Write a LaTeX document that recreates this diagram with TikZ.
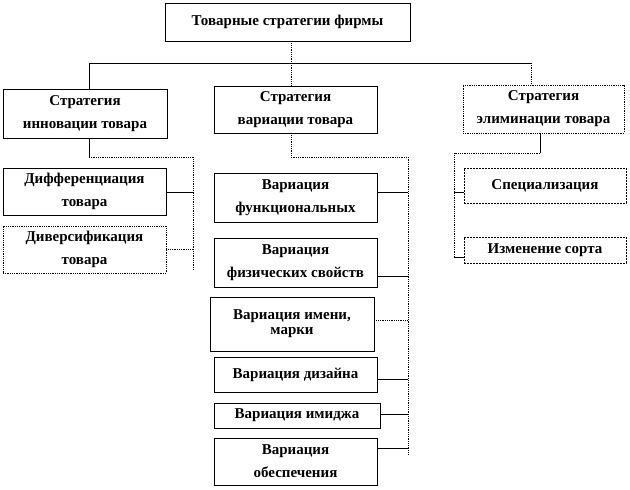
\documentclass[tikz,border=0pt]{standalone}
\usepackage{fontspec}
\setmainfont{Liberation Serif}
\begin{document}
\begin{tikzpicture}[x=1pt,y=-1pt,
  box/.style={draw=black,line width=0.8pt,fill=white,inner sep=0pt,align=center,
    font=\bfseries\fontsize{15}{23}\selectfont},
  dotbox/.style={box,densely dotted},
  dashbox/.style={box,dash pattern=on 2pt off 1pt},
  sline/.style={line width=0.8pt},
  dline/.style={line width=0.8pt,densely dotted}]
\useasboundingbox (0,0) rectangle (630,490);

% Kopf
\node[box,minimum width=245,minimum height=38] (firm) at (287.5,22) {Товарные стратегии фирмы};

% Stufe 1
\node[box,minimum width=164,minimum height=49] (inn) at (85,113.5) {Стратегия\\инновации товара};
\node[box,minimum width=163,minimum height=47] (var) at (295.5,109.5) {Стратегия\\вариации товара};
\node[dotbox,minimum width=161,minimum height=48] (elim) at (543.5,109) {Стратегия\\элиминации товара};

% Verteiler oben
\coordinate (hl) at (89,63);
\coordinate (hm) at (291,63);
\coordinate (hr) at (531,63);
\draw[sline] (hl) -- (hr);
\draw[sline] (hl) -- (hl |- inn.north);
\draw[dline] (hm |- firm.south) -- (hm |- var.north);
\draw[dline] (hr) -- (hr |- elim.north);

% links: Innovation
\node[box,minimum width=163,minimum height=47] (dif) at (84.5,191.5) {Дифференциация\\товара};
\node[dotbox,minimum width=163,minimum height=47] (dvr) at (84.5,249.5) {Диверсификация\\товара};
\coordinate (busL) at (193,157);
\coordinate (busLend) at (193,270);
\draw[sline] (hl |- inn.south) -- (hl |- busL);
\draw[dline] (hl |- busL) -- (busL) -- (busLend);
\draw[sline] (dif.east |- 0,192) -- (busL |- 0,192);
\draw[dline] (dvr.east |- 0,249) -- (busL |- 0,249);

% Mitte: Variation
\node[box,minimum width=163,minimum height=49] (fun) at (295.5,197.5) {Вариация\\функциональных};
\node[box,minimum width=163,minimum height=49] (fiz) at (295.5,262.5) {Вариация\\физических свойств};
\node[box,minimum width=164,minimum height=54,font=\bfseries\fontsize{15}{15}\selectfont] (imn) at (292,324) {Вариация имени,\\марки};
\node[box,minimum width=163,minimum height=35] (diz) at (295.5,374.5) {Вариация дизайна};
\node[box,minimum width=166,minimum height=25] (img) at (297,415.5) {Вариация имиджа};
\node[box,minimum width=163,minimum height=47] (obs) at (295.5,461.5) {Вариация\\обеспечения};
\coordinate (busM) at (408,157);
\coordinate (busMend) at (408,455);
\draw[dline] (hm |- var.south) -- (hm |- busM) -- (busM) -- (busMend);
\foreach \n/\y/\s in {fun/192/sline, fiz/276/sline, imn/320/dline, diz/379/sline, img/414/sline, obs/448/sline}
  \draw[\s] (\n.east |- 0,\y) -- (busM |- 0,\y);

% rechts: Elimination
\node[dashbox,minimum width=162,minimum height=35] (spc) at (545,185.5) {Специализация};
\node[dashbox,minimum width=162,minimum height=26] (srt) at (545,250) {Изменение сорта};
\coordinate (ce) at (540,153);
\coordinate (busR) at (454,153);
\coordinate (busRend) at (454,257);
\draw[sline] (ce |- elim.south) -- (ce);
\draw[dline] (ce) -- (busR) -- (busRend);
\draw[sline] (busR |- 0,192) -- (spc.west |- 0,192);
\draw[sline] (busR |- 0,257) -- (srt.west |- 0,257);

\end{tikzpicture}
\end{document}
